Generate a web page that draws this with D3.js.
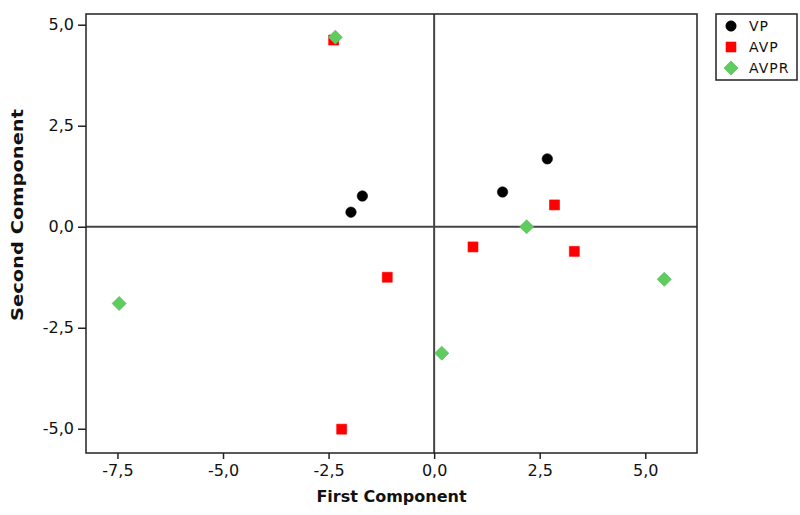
<!DOCTYPE html>
<html lang="en">
<head>
    <meta charset="UTF-8">
    <title>PCA scores</title>
    <style>
        body { margin: 0; background: #fff; }
        text { font-family: "DejaVu Sans", Verdana, sans-serif; }
    </style>
</head>
<body>
    <div id="chart"></div>
    <script src="https://d3js.org/d3.v7.min.js"></script>
    <script>
        // score values
        const vpX = [-1.97, -1.70, 1.62, 2.68]
        const vpY = [0.36, 0.76, 0.86, 1.68]
        const avpX = [-2.38, -1.11, 0.92, 2.85, 3.32, -2.19]
        const avpY = [4.62, -1.25, -0.50, 0.54, -0.61, -5.01]
        const avprX = [-2.34, -7.46, 0.18, 2.19, 5.45]
        const avprY = [4.69, -1.90, -3.13, 0.00, -1.30]
        const seriesNames = ['VP', 'AVP', 'AVPR']
        const xTicks = [-7.5, -5, -2.5, 0, 2.5, 5]
        const yTicks = [-5, -2.5, 0, 2.5, 5]

        const width = 800
        const height = 515
        const plot = { left: 86, right: 697, top: 14, bottom: 453 }

        const fmt = d => d.toFixed(1).replace('.', ',')

        const x = d3.scaleLinear().domain([-8.245, 6.225]).range([plot.left, plot.right])
        const y = d3.scaleLinear().domain([-5.6, 5.265]).range([plot.bottom, plot.top])

        const svg = d3.select('#chart').append('svg')
            .attr('width', width)
            .attr('height', height)

        // zero reference lines
        svg.append('line')
            .attr('x1', x(0)).attr('x2', x(0))
            .attr('y1', plot.top).attr('y2', plot.bottom)
            .attr('stroke', '#444').attr('stroke-width', 2)
        svg.append('line')
            .attr('x1', plot.left).attr('x2', plot.right)
            .attr('y1', y(0)).attr('y2', y(0))
            .attr('stroke', '#444').attr('stroke-width', 2)

        const xAxis = svg.append('g')
            .attr('transform', `translate(0,${plot.bottom})`)
            .call(d3.axisBottom(x).tickValues(xTicks).tickFormat(fmt).tickSize(6).tickSizeOuter(0))
        const yAxis = svg.append('g')
            .attr('transform', `translate(${plot.left},0)`)
            .call(d3.axisLeft(y).tickValues(yTicks).tickFormat(fmt).tickSize(8).tickSizeOuter(0))
        for (const g of [xAxis, yAxis]) {
            g.select('.domain').remove()
            g.selectAll('.tick line').attr('stroke', '#222').attr('stroke-width', 1.5)
            g.selectAll('.tick text')
                .attr('font-size', 16)
                .attr('font-family', '"DejaVu Sans", sans-serif')
                .attr('fill', '#111')
        }
        xAxis.selectAll('.tick text').attr('dy', '0.75em').attr('y', 11)
        yAxis.selectAll('.tick text').attr('x', -12)

        // frame
        svg.append('rect')
            .attr('x', plot.left).attr('y', plot.top)
            .attr('width', plot.right - plot.left)
            .attr('height', plot.bottom - plot.top)
            .attr('fill', 'none').attr('stroke', '#222').attr('stroke-width', 1.5)

        // axis titles
        svg.append('text')
            .attr('x', (plot.left + plot.right) / 2).attr('y', 502)
            .attr('text-anchor', 'middle')
            .attr('font-size', 16).attr('font-weight', 'bold')
            .attr('fill', '#111')
            .text('First Component')
        svg.append('text')
            .attr('transform', 'translate(23,215) rotate(-90)')
            .attr('text-anchor', 'middle')
            .attr('font-size', 16).attr('font-weight', 'bold')
            .attr('textLength', 212).attr('lengthAdjust', 'spacingAndGlyphs')
            .attr('fill', '#111')
            .text('Second Component')

        // markers
        const circle = d3.symbol().type(d3.symbolCircle).size(85)
        const square = d3.symbol().type(d3.symbolSquare).size(100)
        const diamond = d3.symbol().type(d3.symbolSquare).size(100)
        const series = [
            { name: seriesNames[0], xs: vpX, ys: vpY, path: circle(), rot: 0, fill: '#000', stroke: '#000' },
            { name: seriesNames[1], xs: avpX, ys: avpY, path: square(), rot: 0, fill: '#ff0000', stroke: '#ff0000' },
            { name: seriesNames[2], xs: avprX, ys: avprY, path: diamond(), rot: 45, fill: '#5fcc5f', stroke: '#4fbb4f' }
        ]

        series.forEach(s => {
            svg.append('g').selectAll('path')
                .data(s.xs.map((v, i) => [v, s.ys[i]]))
                .join('path')
                .attr('d', s.path)
                .attr('transform', d => `translate(${x(d[0])},${y(d[1])}) rotate(${s.rot})`)
                .attr('fill', s.fill)
                .attr('stroke', s.stroke)
                .attr('stroke-width', 0.6)
        })

        // legend
        const legend = svg.append('g')
        legend.append('rect')
            .attr('x', 716).attr('y', 14).attr('width', 81).attr('height', 66)
            .attr('fill', '#fff').attr('stroke', '#222').attr('stroke-width', 1.5)
        series.forEach((s, i) => {
            const ly = 26 + i * 21
            legend.append('path')
                .attr('d', s.path)
                .attr('transform', `translate(731,${ly}) rotate(${s.rot})`)
                .attr('fill', s.fill).attr('stroke', s.stroke).attr('stroke-width', 0.6)
            legend.append('text')
                .attr('x', 749).attr('y', ly)
                .attr('dy', '0.36em')
                .attr('font-size', 14)
                .attr('letter-spacing', 1)
                .attr('fill', '#111')
                .text(s.name)
        })
    </script>
</body>
</html>
